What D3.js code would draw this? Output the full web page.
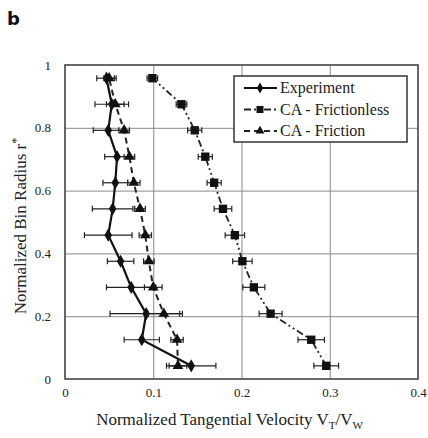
<!DOCTYPE html>
<html>
  <head>
    <script src="https://cdn.jsdelivr.net/npm/d3@7"></script>
  </head>
  <body style="margin:0">
    <div id="wrapper"></div>
    <script>
      // normalized bin radius r* (bin centres)
      const rStar = [0.042, 0.125, 0.208, 0.292, 0.375, 0.458, 0.542, 0.625, 0.708, 0.792, 0.875, 0.958]
      const expV = [0.143, 0.087, 0.092, 0.075, 0.063, 0.049, 0.054, 0.057, 0.059, 0.049, 0.053, 0.047]
      const expErr = [0.028, 0.020, 0.041, 0.028, 0.015, 0.027, 0.023, 0.014, 0.014, 0.017, 0.019, 0.011]
      const frlsV = [0.296, 0.279, 0.233, 0.214, 0.201, 0.1925, 0.179, 0.169, 0.159, 0.147, 0.132, 0.099]
      const frlsErr = [0.014, 0.015, 0.013, 0.0125, 0.011, 0.011, 0.010, 0.008, 0.008, 0.008, 0.006, 0.006]
      const fricV = [0.128, 0.127, 0.112, 0.100, 0.095, 0.091, 0.085, 0.078, 0.073, 0.067, 0.057, 0.050]
      const fricErr = [0.010, 0.007, 0.018, 0.010, 0.006, 0.007, 0.006, 0.007, 0.006, 0.006, 0.010, 0.006]
      const xTicks = [0, 0.1, 0.2, 0.3, 0.4]
      const yTicks = [0, 0.2, 0.4, 0.6, 0.8, 1]
      const seriesNames = ['Experiment', 'CA - Frictionless', 'CA - Friction']

      const dms = {
        width: 428,
        height: 438,
        margin: { top: 65, left: 65, right: 10, bottom: 59 }
      }
      dms.boundedWidth = dms.width - dms.margin.left - dms.margin.right
      dms.boundedHeight = dms.height - dms.margin.top - dms.margin.bottom

      const series = [
        { name: seriesNames[0], v: expV, err: expErr, symbol: d3.symbolDiamond, size: 50, dash: null, width: 2.2, color: '#111' },
        { name: seriesNames[1], v: frlsV, err: frlsErr, symbol: d3.symbolSquare, size: 70, dash: '7,3,2,3,2,3', width: 1.8, color: '#222' },
        { name: seriesNames[2], v: fricV, err: fricErr, symbol: d3.symbolTriangle, size: 50, dash: '6,4', width: 2, color: '#222' }
      ]

      const svg = d3.select('#wrapper').append('svg')
        .attr('width', dms.width)
        .attr('height', dms.height)
        .style('font-family', "'Liberation Serif'")

      svg.append('text')
        .attr('x', 7).attr('y', 25)
        .style('font-family', "'DejaVu Sans'")
        .style('font-weight', 'bold')
        .attr('font-size', 18)
        .attr('fill', '#111')
        .text('b')

      const g = svg.append('g')
        .attr('transform', `translate(${dms.margin.left},${dms.margin.top})`)

      const xScale = d3.scaleLinear().domain([0, 0.4]).range([0, dms.boundedWidth])
      const yScale = d3.scaleLinear().domain([0, 1]).range([dms.boundedHeight, 0])

      // grid
      g.append('g')
        .attr('transform', `translate(0,${dms.boundedHeight})`)
        .call(d3.axisBottom(xScale).tickValues(xTicks.slice(1, -1)).tickSize(-dms.boundedHeight).tickFormat(''))
        .call(a => a.select('.domain').remove())
        .call(a => a.selectAll('line').attr('stroke', '#8a8a8a').attr('stroke-width', 1))
      g.append('g')
        .call(d3.axisLeft(yScale).tickValues(yTicks.slice(1, -1)).tickSize(-dms.boundedWidth).tickFormat(''))
        .call(a => a.select('.domain').remove())
        .call(a => a.selectAll('line').attr('stroke', '#8a8a8a').attr('stroke-width', 1))

      g.append('rect')
        .attr('width', dms.boundedWidth)
        .attr('height', dms.boundedHeight)
        .attr('fill', 'none')
        .attr('stroke', '#444')
        .attr('stroke-width', 1.6)

      // tick labels
      const xAxis = g.append('g')
        .attr('transform', `translate(0,${dms.boundedHeight})`)
        .call(d3.axisBottom(xScale).tickValues(xTicks).tickSize(0).tickPadding(9)
          .tickFormat(d => d === 0 ? '0' : d3.format('.1f')(d)))
        .attr('font-family', null)
        .attr('font-size', 13)
      xAxis.select('.domain').remove()
      xAxis.selectAll('text').attr('fill', '#222')

      const yAxis = g.append('g')
        .call(d3.axisLeft(yScale).tickValues(yTicks).tickSize(0).tickPadding(14)
          .tickFormat(d => (d === 0 || d === 1) ? String(d) : d3.format('.1f')(d)))
        .attr('font-family', null)
        .attr('font-size', 13)
      yAxis.select('.domain').remove()
      yAxis.selectAll('text').attr('fill', '#222')

      // axis titles
      const xTitle = svg.append('text')
        .attr('x', dms.margin.left + dms.boundedWidth / 2 - 12)
        .attr('y', 425)
        .attr('text-anchor', 'middle')
        .attr('font-size', 17)
        .attr('fill', '#222')
      xTitle.append('tspan').text('Normalized Tangential Velocity V')
      xTitle.append('tspan').attr('dy', 4).attr('font-size', 11).text('T')
      xTitle.append('tspan').attr('dy', -4).text('/V')
      xTitle.append('tspan').attr('dy', 4).attr('font-size', 11).text('W')

      const yTitle = svg.append('text')
        .attr('transform', `translate(26,226) rotate(-90)`)
        .attr('text-anchor', 'middle')
        .attr('font-size', 17)
        .attr('fill', '#222')
      yTitle.append('tspan').text('Normalized Bin Radius r')
      yTitle.append('tspan').attr('dy', -6).attr('font-size', 12).text('*')

      // series
      series.forEach(s => {
        const pts = rStar.map((r, i) => ({ r, v: s.v[i], e: s.err[i] }))
        const line = d3.line().x(d => xScale(d.v)).y(d => yScale(d.r))
        g.append('path')
          .attr('d', line(pts))
          .attr('fill', 'none')
          .attr('stroke', s.color)
          .attr('stroke-width', s.width)
          .attr('stroke-dasharray', s.dash)

        const eb = g.append('g').attr('stroke', '#222').attr('stroke-width', 1.2)
        eb.selectAll('line.h').data(pts).join('line')
          .attr('x1', d => xScale(d.v - d.e)).attr('x2', d => xScale(d.v + d.e))
          .attr('y1', d => yScale(d.r)).attr('y2', d => yScale(d.r))
        eb.selectAll('line.l').data(pts).join('line')
          .attr('x1', d => xScale(d.v - d.e)).attr('x2', d => xScale(d.v - d.e))
          .attr('y1', d => yScale(d.r) - 3).attr('y2', d => yScale(d.r) + 3)
        eb.selectAll('line.r').data(pts).join('line')
          .attr('x1', d => xScale(d.v + d.e)).attr('x2', d => xScale(d.v + d.e))
          .attr('y1', d => yScale(d.r) - 3).attr('y2', d => yScale(d.r) + 3)

        g.append('g').selectAll('path').data(pts).join('path')
          .attr('transform', d => `translate(${xScale(d.v)},${yScale(d.r)})`)
          .attr('d', d3.symbol(s.symbol, s.size))
          .attr('fill', '#111')
      })

      // legend
      const lg = svg.append('g').attr('transform', 'translate(234,76)')
      lg.append('rect')
        .attr('width', 173).attr('height', 66)
        .attr('fill', '#fff')
        .attr('stroke', '#333')
        .attr('stroke-width', 1.5)
      series.forEach((s, i) => {
        const row = lg.append('g').attr('transform', `translate(0,${12 + i * 21.5})`)
        row.append('line')
          .attr('x1', 10).attr('x2', 43)
          .attr('stroke', s.color)
          .attr('stroke-width', s.width)
          .attr('stroke-dasharray', s.dash)
        row.append('path')
          .attr('transform', 'translate(26,0)')
          .attr('d', d3.symbol(s.symbol, s.size * 0.7))
          .attr('fill', '#111')
        row.append('text')
          .attr('x', 46).attr('y', 5)
          .attr('font-size', 16)
          .attr('fill', '#222')
          .text(s.name)
      })
    </script>
  </body>
</html>
